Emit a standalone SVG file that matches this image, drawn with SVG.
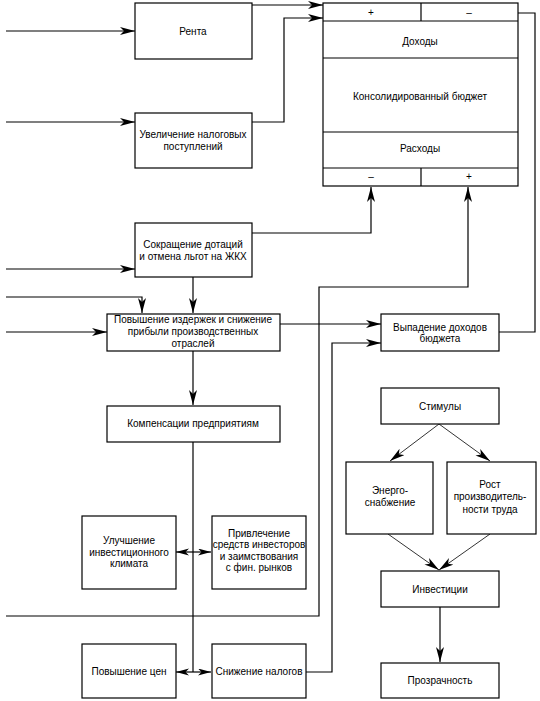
<svg xmlns="http://www.w3.org/2000/svg" width="540" height="701" viewBox="0 0 540 701">
<defs>
<marker id="ah" markerUnits="userSpaceOnUse" markerWidth="16" markerHeight="9" refX="15" refY="4" orient="auto" viewBox="0 0 16 9">
<path d="M0,0 L15,4 L0,8 L4,4 Z" fill="#000"/>
</marker>
<marker id="ahm" markerUnits="userSpaceOnUse" markerWidth="14" markerHeight="9" refX="13" refY="3.5" orient="auto" viewBox="0 0 14 9">
<path d="M0,0 L13,3.5 L0,7 L3.5,3.5 Z" fill="#000"/>
</marker>
</defs>
<style>
rect{fill:#fff;stroke:#000;stroke-width:1.2}
.ln{fill:none;stroke:#000;stroke-width:1.2}
.thin{fill:none;stroke:#000;stroke-width:0.8}
text{font-family:"Liberation Sans",Arial,sans-serif;font-size:10px;text-anchor:middle;fill:#000}
</style>
<rect x="0" y="0" width="540" height="701" style="fill:#fff;stroke:none"/>

<g id="connectors">
<path class="ln" d="M6,31 H135" marker-end="url(#ah)"/>
<path class="ln" d="M6,122 H135" marker-end="url(#ah)"/>
<path class="ln" d="M6,269 H135" marker-end="url(#ah)"/>
<path class="ln" d="M6,297 H142 V313" marker-end="url(#ah)"/>
<path class="ln" d="M6,332 H107" marker-end="url(#ah)"/>
<path class="ln" d="M252,5 H323" marker-end="url(#ah)"/>
<path class="ln" d="M252,122 H284 V18 H323" marker-end="url(#ah)"/>
<path class="ln" d="M252,233 H371 V187" marker-end="url(#ah)"/>
<path class="ln" d="M6,616 H319 V287 H468 V187" marker-end="url(#ah)"/>
<path class="ln" d="M518,13 H535 V332 H499"/>
<path class="ln" d="M193,277 V313" marker-end="url(#ah)"/>
<path class="ln" d="M280,324 H381" marker-end="url(#ah)"/>
<path class="ln" d="M306,672 H332 V343 H381" marker-end="url(#ah)"/>
<path class="ln" d="M193,351 V405" marker-end="url(#ah)"/>
<path class="ln" d="M193,442 V672"/>
<path class="ln" d="M193,552 H176" marker-end="url(#ahm)"/>
<path class="ln" d="M193,552 H211" marker-end="url(#ahm)"/>
<path class="ln" d="M193,672 H176" marker-end="url(#ahm)"/>
<path class="ln" d="M193,672 H211" marker-end="url(#ahm)"/>
<path class="thin" d="M439,424 L390,461" marker-end="url(#ah)"/>
<path class="thin" d="M439,424 L490,461" marker-end="url(#ah)"/>
<path class="thin" d="M388,534 L439,570" marker-end="url(#ah)"/>
<path class="thin" d="M490,534 L439,570" marker-end="url(#ah)"/>
<path class="ln" d="M440,607 V662" marker-end="url(#ah)"/>
</g>

<g id="renta">
<rect x="135" y="3" width="117" height="56"/>
<text x="193" y="34.5">Рента</text>
</g>
<g id="uvelichenie">
<rect x="135" y="113" width="117" height="55"/>
<text x="193" y="137.5">Увеличение налоговых</text>
<text x="193" y="149.5">поступлений</text>
</g>
<g id="budget">
<rect x="323" y="3" width="195" height="183"/>
<path class="ln" d="M323,21 H518 M323,58 H518 M323,132 H518 M323,168 H518 M421,3 V21 M421,168 V186"/>
<text x="371" y="16">+</text>
<text x="469" y="16">–</text>
<text x="420" y="44.5">Доходы</text>
<text x="420" y="99.5">Консолидированный бюджет</text>
<text x="420" y="151.5">Расходы</text>
<text x="371" y="180">–</text>
<text x="469" y="180">+</text>
</g>
<g id="sokrashchenie">
<rect x="135" y="223" width="117" height="54"/>
<text x="193" y="247.5">Сокращение дотаций</text>
<text x="193" y="259.5">и отмена льгот на ЖКХ</text>
</g>
<g id="povyshenie-izderzhek">
<rect x="107" y="314" width="173" height="37"/>
<text x="193" y="322.5">Повышение издержек и снижение</text>
<text x="193" y="334.5">прибыли производственных</text>
<text x="193" y="346.5">отраслей</text>
</g>
<g id="kompensacii">
<rect x="107" y="406" width="173" height="36"/>
<text x="193" y="426.5">Компенсации предприятиям</text>
</g>
<g id="vypadenie">
<rect x="381" y="314" width="118" height="37"/>
<text x="440" y="330.5">Выпадение доходов</text>
<text x="440" y="341.5">бюджета</text>
</g>
<g id="stimuly">
<rect x="381" y="388" width="118" height="36"/>
<text x="440" y="409.5">Стимулы</text>
</g>
<g id="energo">
<rect x="346" y="462" width="87" height="72"/>
<text x="390" y="493.5">Энерго-</text>
<text x="390" y="506">снабжение</text>
</g>
<g id="rost">
<rect x="447" y="462" width="89" height="72"/>
<text x="490" y="487.5">Рост</text>
<text x="490" y="500">производитель-</text>
<text x="490" y="512.5">ности труда</text>
</g>
<g id="uluchshenie">
<rect x="82" y="516" width="94" height="73"/>
<text x="129" y="543.5">Улучшение</text>
<text x="129" y="555.5">инвестиционного</text>
<text x="129" y="567">климата</text>
</g>
<g id="privlechenie">
<rect x="212" y="516" width="94" height="73"/>
<text x="259" y="536.5">Привлечение</text>
<text x="259" y="548">средств инвесторов</text>
<text x="259" y="559.5">и заимствования</text>
<text x="259" y="571">с фин. рынков</text>
</g>
<g id="investicii">
<rect x="381" y="571" width="118" height="36"/>
<text x="440" y="592.5">Инвестиции</text>
</g>
<g id="povyshenie-cen">
<rect x="82" y="644" width="94" height="54"/>
<text x="129" y="674.5">Повышение цен</text>
</g>
<g id="snizhenie-nalogov">
<rect x="212" y="644" width="94" height="54"/>
<text x="259" y="674.5">Снижение налогов</text>
</g>
<g id="prozrachnost">
<rect x="381" y="663" width="118" height="35"/>
<text x="440" y="683.5">Прозрачность</text>
</g>
</svg>
